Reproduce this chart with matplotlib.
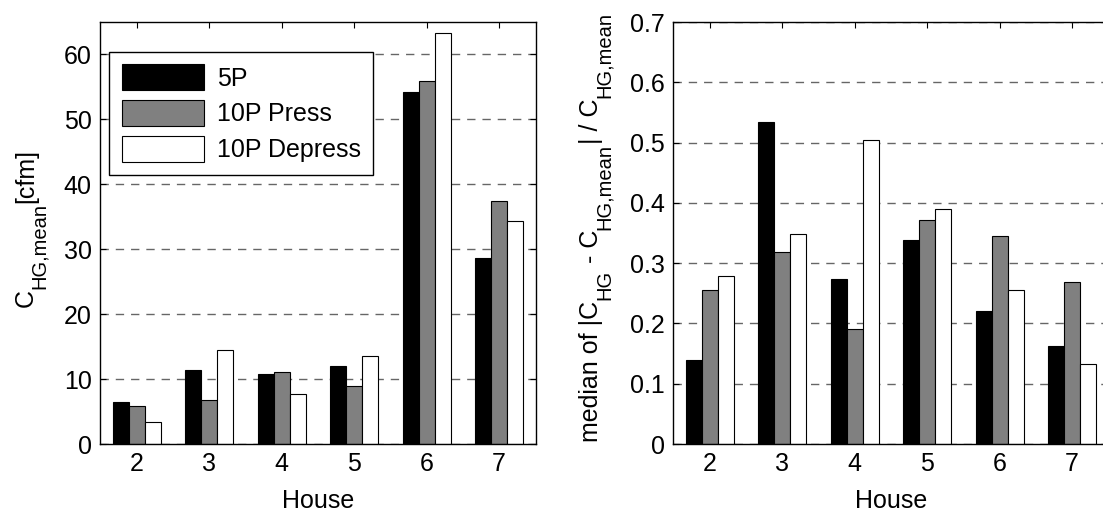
import matplotlib
matplotlib.use('Agg')
import matplotlib.pyplot as plt
import numpy as np

plt.rcParams['font.family'] = ['Liberation Sans', 'DejaVu Sans']

houses = [2, 3, 4, 5, 6, 7]
series = ['5P', '10P Press', '10P Depress']
colors = ['black', '#808080', 'white']

c_mean_5p = [6.5, 11.4, 10.8, 12.0, 54.2, 28.7]
c_mean_10p_press = [5.9, 6.8, 11.1, 9.0, 55.9, 37.5]
c_mean_10p_depress = [3.4, 14.5, 7.7, 13.6, 63.3, 34.4]

med_5p = [0.140, 0.534, 0.273, 0.339, 0.220, 0.163]
med_10p_press = [0.256, 0.318, 0.190, 0.372, 0.345, 0.268]
med_10p_depress = [0.279, 0.349, 0.504, 0.389, 0.256, 0.133]

left_data = [c_mean_5p, c_mean_10p_press, c_mean_10p_depress]
right_data = [med_5p, med_10p_press, med_10p_depress]

FS = 18
SUB = 14.5
W, H = 1103, 512


def draw_bars(ax, data):
    x = np.array(houses, dtype=float)
    w = 0.222
    for i, vals in enumerate(data):
        ax.bar(x + (i - 1) * w, vals, width=w, color=colors[i],
               edgecolor='black', linewidth=0.8, zorder=3, label=series[i])
    ax.set_xlim(1.49, 7.51)
    ax.set_xticks(houses)
    ax.yaxis.grid(True, linestyle=(0, (6, 5)), color='#666666', linewidth=1.0, zorder=0)
    ax.set_axisbelow(True)
    ax.tick_params(direction='in', top=True, right=True, length=4, width=0.8,
                   labelsize=FS, pad=6)
    for s in ax.spines.values():
        s.set_linewidth(1.0)
        s.set_zorder(5)
    ax.set_xlabel('House', fontsize=FS, labelpad=9)


def text_width(fig, r, s, size):
    # width incl. spaces: measure "|s|" minus "||"
    t1 = fig.text(0, 0, '|' + s + '|', fontsize=size)
    t2 = fig.text(0, 0, '||', fontsize=size)
    w = t1.get_window_extent(r).width - t2.get_window_extent(r).width
    t1.remove()
    t2.remove()
    return w


def vertical_label(fig, x_px, yc_px, pieces):
    # pieces: (text, is_subscript); drawn rotated 90 deg, reading upwards
    r = fig.canvas.get_renderer()
    widths = [text_width(fig, r, s, SUB if sub else FS) for s, sub in pieces]
    y = yc_px - sum(widths) / 2
    for (s, sub), w in zip(pieces, widths):
        xb = x_px + (12 if sub else 0)
        fig.text(xb / W, y / H, s, fontsize=SUB if sub else FS, rotation=90,
                 rotation_mode='anchor', ha='left', va='baseline')
        y += w


fig = plt.figure(figsize=(11.03, 5.12), dpi=100)
ax1 = fig.add_axes([100 / W, 68 / H, 436 / W, 422 / H])
ax2 = fig.add_axes([673 / W, 68 / H, 436 / W, 422 / H])

draw_bars(ax1, left_data)
ax1.set_ylim(0, 65)
ax1.set_yticks(np.arange(0, 61, 10))
leg = ax1.legend(loc='upper left', bbox_to_anchor=(0.021, 0.929), fontsize=FS,
                 handlelength=3.3, handleheight=1.2, fancybox=False,
                 edgecolor='black', framealpha=1, borderpad=0.5,
                 labelspacing=0.38, handletextpad=0.5, borderaxespad=0)
leg.get_frame().set_linewidth(1.0)
leg.set_zorder(6)

draw_bars(ax2, right_data)
ax2.set_ylim(0, 0.7)
ax2.set_yticks(np.arange(0, 0.71, 0.1))
ax2.set_yticklabels(['0', '0.1', '0.2', '0.3', '0.4', '0.5', '0.6', '0.7'])

# y labels with MATLAB-style large subscripts (pixel coords from bottom)
vertical_label(fig, 33, H - 228, [('C', False), ('HG,mean', True), ('[cfm]', False)])
vertical_label(fig, 598, H - 227, [('median of |C', False), ('HG', True),
                                   (' - C', False), ('HG,mean', True),
                                   ('| / C', False), ('HG,mean', True)])

fig.savefig('out.png', dpi=100)
